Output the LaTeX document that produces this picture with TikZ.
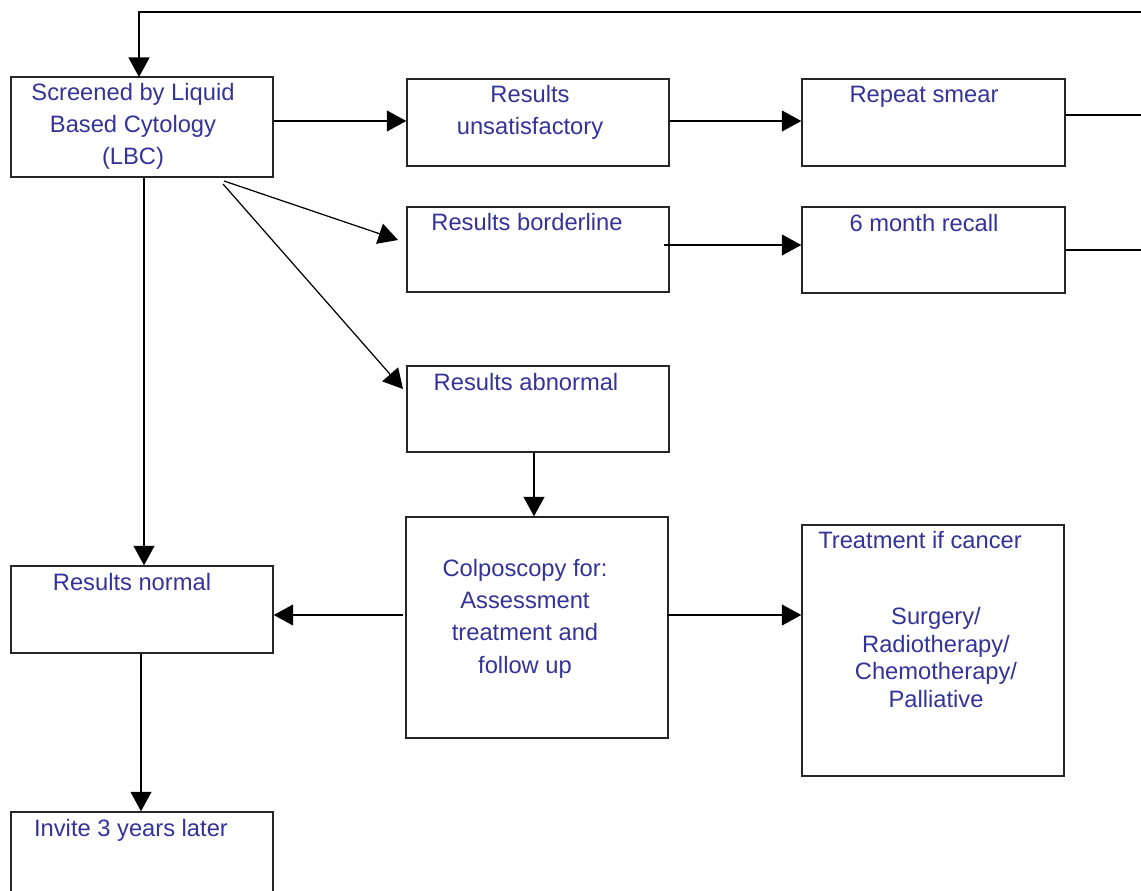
\documentclass[tikz,border=0pt]{standalone}
\usepackage{fontspec}
\setmainfont{Liberation Sans}
\usetikzlibrary{arrows.meta,fit}
\definecolor{txtblue}{RGB}{51,51,153}
\begin{document}
\begin{tikzpicture}[x=0.02cm,y=-0.02cm,
  box/.style={draw=black!85,line width=0.85pt,inner sep=0pt,fill=none},
  txt/.style={text=txtblue,font=\fontsize{13.5}{18.4}\selectfont,align=center,inner sep=0pt,anchor=base},
  txtb/.style={txt,font=\fontsize{13.5}{15.6}\selectfont},
  arr/.style={draw=black,line width=0.7pt,-{Triangle[length=0.39cm,width=0.42cm]}},
  ln/.style={draw=black,line width=0.7pt}]
\clip (0,0) rectangle (1141,891);
\fill[white] (0,0) rectangle (1141,891);
% boxes
\node[box,fit={(11,77) (273,177)}] (scr) {};
\node[box,fit={(407,79) (669,166)}] (uns) {};
\node[box,fit={(802,79) (1065,166)}] (rep) {};
\node[box,fit={(407,207) (669,292)}] (bord) {};
\node[box,fit={(802,207) (1065,293)}] (rec) {};
\node[box,fit={(407,366) (669,452)}] (abn) {};
\node[box,fit={(406,517) (668,738)}] (colp) {};
\node[box,fit={(802,525) (1064,776)}] (treat) {};
\node[box,fit={(11,566) (273,653)}] (norm) {};
\node[box,fit={(11,812) (273,905)}] (inv) {};
% texts (anchor base = baseline of last line)
\node[txt] (tscr) at (133,165) {Screened by Liquid\\Based Cytology\\(LBC)};
\node[txt] (tuns) at (530,135) {Results\\unsatisfactory};
\node[txt] (trep) at (924,103) {Repeat smear};
\node[txt] (tbord) at (527,231) {Results borderline};
\node[txt] (trec) at (924,232) {6 month recall};
\node[txt] (tabn) at (526,390) {Results abnormal};
\node[txt] (tcolp) at (525,673) {Colposcopy for:\\Assessment\\treatment and\\follow up};
\node[txt] (ttr1) at (920,548) {Treatment if cancer};
\node[txtb] (ttr2) at (936,707) {Surgery/\\Radiotherapy/\\Chemotherapy/\\Palliative};
\node[txt] (tnorm) at (132,590) {Results normal};
\node[txt] (tinv) at (131,836) {Invite 3 years later};
% connector helper coordinates
\coordinate (topR) at (1141,12);
\coordinate (topL) at (139,12);
\coordinate (scrIn) at (139,77);
\coordinate (r1) at (1141,115);
\coordinate (r2) at (1141,250);
\coordinate (d1) at (224,181);
\coordinate (d1t) at (398,240);
\coordinate (d2) at (223,184);
\coordinate (d2t) at (403,389);
\coordinate (b1) at (664,245);
\coordinate (c1) at (403,615);
\coordinate (c2) at (667,615);
% connectors
\draw[arr] (topR) -- (topL) -- (scrIn);
\draw[arr] (scr.east |- 0,121) -- (uns.west |- 0,121);
\draw[arr] (uns.east |- 0,121) -- (rep.west |- 0,121);
\draw[ln] (rep.east |- r1) -- (r1);
\draw[ln] (rec.east |- r2) -- (r2);
\draw[arr] (d1) -- (d1t);
\draw[arr] (d2) -- (d2t);
\draw[arr] (b1) -- (b1 -| rec.west);
\draw[arr] (scr.south -| 144,0) -- (norm.north -| 144,0);
\draw[arr] (abn.south -| 534,0) -- (colp.north -| 534,0);
\draw[arr] (c1) -- (c1 -| norm.east);
\draw[arr] (c2) -- (c2 -| treat.west);
\draw[arr] (norm.south -| 141,0) -- (inv.north -| 141,0);
\end{tikzpicture}
\end{document}
